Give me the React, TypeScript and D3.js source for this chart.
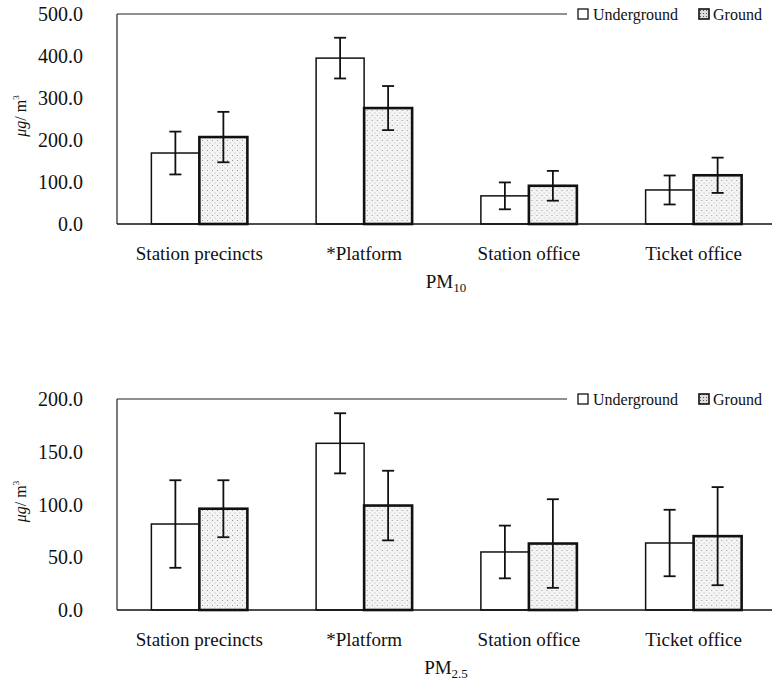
import * as d3 from 'd3';

// categories along x
const categories = ['Station precincts', '*Platform', 'Station office', 'Ticket office'];
const seriesNames = ['Underground', 'Ground'];

// PM10 means and standard deviations (µg/m³)
const pm10Underground = [169, 395, 67, 81];
const pm10UndergroundSd = [51, 48.5, 32, 34.5];
const pm10Ground = [207, 276, 91, 116];
const pm10GroundSd = [60, 52.5, 35.5, 42];

// PM2.5 means and standard deviations (µg/m³)
const pm25Underground = [81.5, 158, 55, 63.5];
const pm25UndergroundSd = [41.5, 28.5, 25, 31.5];
const pm25Ground = [96, 99, 63, 70];
const pm25GroundSd = [27, 33, 42, 46.5];

const pm10Ticks = [0, 100, 200, 300, 400, 500];
const pm25Ticks = [0, 50, 100, 150, 200];

const serif = { fontFamily: "'Liberation Serif', serif" };

type PanelProps = {
  top: number;
  bottom: number;
  yMax: number;
  ticks: number[];
  underground: number[];
  undergroundSd: number[];
  ground: number[];
  groundSd: number[];
  sub: string;
  patternId: string;
};

const Panel = ({ top, bottom, yMax, ticks, underground, undergroundSd, ground, groundSd, sub, patternId }: PanelProps) => {
  const left = 117;
  const right = 776;
  const x0 = d3.scaleBand().domain(categories).range([left, right]);
  const bw = x0.bandwidth();
  const barW = 48;
  const x1 = d3.scaleBand().domain(seriesNames).range([bw / 2 - barW, bw / 2 + barW]);
  const y = d3.scaleLinear().domain([0, yMax]).range([bottom, top]);

  const rows = categories.map((c, i) => ({
    cat: c,
    bars: [
      { s: 'Underground', v: underground[i], sd: undergroundSd[i] },
      { s: 'Ground', v: ground[i], sd: groundSd[i] },
    ],
  }));

  const legendX = 578;
  const midY = (top + bottom) / 2;

  return (
    <g>
      {/* frame: left axis, top line up to legend */}
      <line x1={left} x2={left} y1={top} y2={bottom} stroke="#222" strokeWidth={1.2} />
      <line x1={left} x2={567} y1={top} y2={top} stroke="#222" strokeWidth={1.2} />

      {/* y tick labels */}
      {ticks.map(t => (
        <text key={t} x={83} y={y(t)} dy="0.35em" textAnchor="end" style={serif} fontSize={20} fill="#111">
          {t.toFixed(1)}
        </text>
      ))}

      {/* y title */}
      <text transform={`translate(26,${midY - 3}) rotate(-90)`} textAnchor="middle" style={serif} fontSize={16} fill="#111">
        <tspan fontStyle="italic">μg</tspan>
        <tspan>/ m</tspan>
        <tspan fontSize={9} dy={-7}>3</tspan>
      </text>

      {rows.map(r => (
        <g key={r.cat} transform={`translate(${x0(r.cat)},0)`}>
          {r.bars.map(b => {
            const isG = b.s === 'Ground';
            return (
              <rect
                key={b.s}
                x={x1(b.s)}
                y={y(b.v)}
                width={x1.bandwidth()}
                height={bottom - y(b.v)}
                fill={isG ? `url(#${patternId})` : '#fff'}
                stroke="#111"
                strokeWidth={isG ? 2.6 : 1.5}
              />
            );
          })}
          {r.bars.map(b => {
            const cx = (x1(b.s) as number) + x1.bandwidth() / 2;
            const hi = y(b.v + b.sd);
            const lo = y(b.v - b.sd);
            return (
              <g key={b.s + '-err'} stroke="#111" strokeWidth={1.8}>
                <line x1={cx} x2={cx} y1={hi} y2={lo} />
                <line x1={cx - 6} x2={cx + 6} y1={hi} y2={hi} />
                <line x1={cx - 6} x2={cx + 6} y1={lo} y2={lo} />
              </g>
            );
          })}
          <text x={bw / 2} y={bottom + 36} textAnchor="middle" style={serif} fontSize={19} fill="#111">
            {r.cat}
          </text>
        </g>
      ))}

      {/* baseline */}
      <line x1={left} x2={right} y1={bottom} y2={bottom} stroke="#111" strokeWidth={1.5} />

      {/* x title */}
      <text x={446} y={bottom + 64} textAnchor="middle" style={serif} fontSize={19} fill="#111">
        PM<tspan fontSize={13} dy={4}>{sub}</tspan>
      </text>

      {/* legend */}
      <g style={serif} fontSize={16} fill="#111">
        <rect x={legendX} y={top - 5} width={10} height={10} fill="#fff" stroke="#111" strokeWidth={1.3} />
        <text x={legendX + 15} y={top} dy="0.35em">Underground</text>
        <rect x={legendX + 121} y={top - 5} width={10} height={10} fill={`url(#${patternId}-dark)`} stroke="#111" strokeWidth={1.6} />
        <text x={legendX + 135} y={top} dy="0.35em">Ground</text>
      </g>
    </g>
  );
};

const Patterns = () => (
  <defs>
    {['p10', 'p25'].map(id => (
      <g key={id}>
        <pattern id={id} width={5} height={5} patternUnits="userSpaceOnUse">
          <rect width={5} height={5} fill="#f4f4f4" />
          <rect x={0} y={0} width={1} height={1} fill="#9a9a9a" />
          <rect x={2.5} y={2.5} width={1} height={1} fill="#b5b5b5" />
        </pattern>
        <pattern id={`${id}-dark`} width={3} height={3} patternUnits="userSpaceOnUse">
          <rect width={3} height={3} fill="#ddd" />
          <rect x={1} y={1} width={1} height={1} fill="#555" />
        </pattern>
      </g>
    ))}
  </defs>
);

export default function App() {
  return (
    <svg width={772} height={688} style={{ position: 'absolute', left: 0, top: 0, background: '#fff' }}>
      <Patterns />
      <Panel
        top={14}
        bottom={224}
        yMax={500}
        ticks={pm10Ticks}
        underground={pm10Underground}
        undergroundSd={pm10UndergroundSd}
        ground={pm10Ground}
        groundSd={pm10GroundSd}
        sub="10"
        patternId="p10"
      />
      <Panel
        top={399}
        bottom={610}
        yMax={200}
        ticks={pm25Ticks}
        underground={pm25Underground}
        undergroundSd={pm25UndergroundSd}
        ground={pm25Ground}
        groundSd={pm25GroundSd}
        sub="2.5"
        patternId="p25"
      />
    </svg>
  );
}
